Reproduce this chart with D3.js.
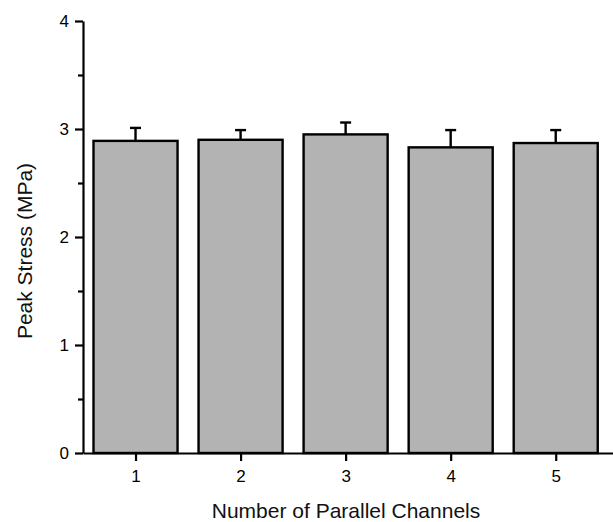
<!DOCTYPE html>
<html>
<head>
<meta charset="utf-8">
<script src="https://cdn.jsdelivr.net/npm/d3@7"></script>
<style>
  html, body { margin: 0; padding: 0; background: #fff; }
  svg { display: block; font-family: "Liberation Sans", Arial, sans-serif; }
  .tick text { font-size: 17px; font-family: "Liberation Sans", Arial, sans-serif; fill: #000; }
</style>
</head>
<body>
<svg id="chart" width="613" height="522"></svg>
<script>
const categories = [1, 2, 3, 4, 5];
const peakStress = [2.89, 2.90, 2.95, 2.83, 2.87];
const errorUp = [0.12, 0.09, 0.11, 0.16, 0.12];
const yTicks = [0, 1, 2, 3, 4];
const yMinorTicks = [0.5, 1.5, 2.5, 3.5];
const xLabel = "Number of Parallel Channels";
const yLabel = "Peak Stress (MPa)";

const svg = d3.select("#chart");
const x = d3.scaleLinear().domain([0.5, 5.55]).range([83, 613.5]);
const y = d3.scaleLinear().domain([0, 4]).range([453, 21]);
const barW = (x(1.8) - x(1));

// bars
svg.append("g").selectAll("rect").data(categories).join("rect")
  .attr("x", (d) => x(d) - barW / 2)
  .attr("y", (d, i) => y(peakStress[i]))
  .attr("width", barW)
  .attr("height", (d, i) => y(0) - y(peakStress[i]))
  .attr("fill", "#b3b3b3")
  .attr("stroke", "#000")
  .attr("stroke-width", 2.4);

// error bars
const eg = svg.append("g").attr("stroke", "#000").attr("stroke-width", 2.4);
eg.selectAll("line.v").data(categories).join("line").attr("class", "v")
  .attr("x1", (d) => x(d)).attr("x2", (d) => x(d))
  .attr("y1", (d, i) => y(peakStress[i]))
  .attr("y2", (d, i) => y(peakStress[i] + errorUp[i]));
eg.selectAll("line.c").data(categories).join("line").attr("class", "c")
  .attr("x1", (d) => x(d) - 5.5).attr("x2", (d) => x(d) + 5.5)
  .attr("y1", (d, i) => y(peakStress[i] + errorUp[i]))
  .attr("y2", (d, i) => y(peakStress[i] + errorUp[i]));

// y axis
svg.append("g").attr("transform", "translate(83,0)")
  .call(d3.axisLeft(y).tickValues(yTicks).tickFormat(d3.format("d")).tickSize(8).tickSizeOuter(0).tickPadding(6))
  .attr("font-size", 17).attr("font-family", "Liberation Sans, Arial, sans-serif");
svg.append("g").attr("transform", "translate(83,0)")
  .call(d3.axisLeft(y).tickValues(yMinorTicks).tickFormat("").tickSize(5).tickSizeOuter(0))
  .select(".domain").remove();

// x axis
svg.append("g").attr("transform", "translate(0,453)")
  .call(d3.axisBottom(x).tickValues(categories).tickFormat(d3.format("d")).tickSize(8).tickSizeOuter(0).tickPadding(9))
  .attr("font-size", 17).attr("font-family", "Liberation Sans, Arial, sans-serif");

svg.selectAll(".domain, .tick line").attr("stroke", "#000").attr("stroke-width", 2.2);

// labels
svg.append("text")
  .attr("x", 346).attr("y", 518)
  .attr("text-anchor", "middle")
  .attr("font-size", 21)
  .attr("fill", "#111")
  .text(xLabel);
svg.append("text")
  .attr("transform", "translate(32,251) rotate(-90)")
  .attr("text-anchor", "middle")
  .attr("font-size", 21)
  .attr("fill", "#111")
  .text(yLabel);
</script>
</body>
</html>
